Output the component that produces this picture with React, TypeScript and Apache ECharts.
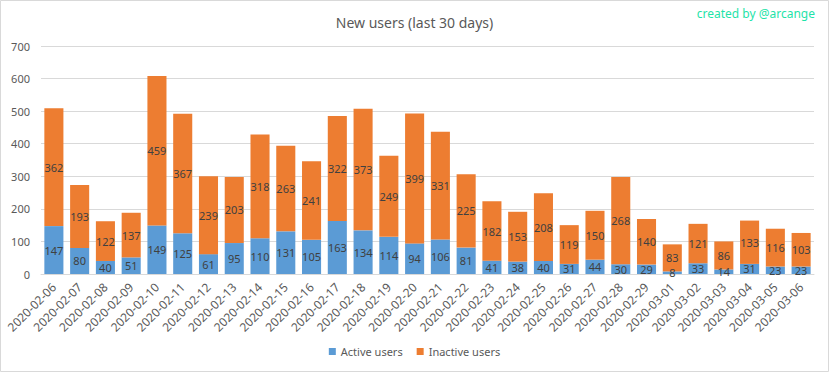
import React, { useEffect, useRef } from "react";
import * as echarts from "echarts";

const categories = [
  "2020-02-06","2020-02-07","2020-02-08","2020-02-09","2020-02-10","2020-02-11","2020-02-12","2020-02-13","2020-02-14","2020-02-15",
  "2020-02-16","2020-02-17","2020-02-18","2020-02-19","2020-02-20","2020-02-21","2020-02-22","2020-02-23","2020-02-24","2020-02-25",
  "2020-02-26","2020-02-27","2020-02-28","2020-02-29","2020-03-01","2020-03-02","2020-03-03","2020-03-04","2020-03-05","2020-03-06",
];
const activeUsers = [147,80,40,51,149,125,61,95,110,131,105,163,134,114,94,106,81,41,38,40,31,44,30,29,8,33,14,31,23,23];
const inactiveUsers = [362,193,122,137,459,367,239,203,318,263,241,322,373,249,399,331,225,182,153,208,119,150,268,140,83,121,86,133,116,103];

const FONT = "'Noto Sans', sans-serif";
const TXT = "#595959";

export default function App() {
  const ref = useRef<HTMLDivElement>(null);
  useEffect(() => {
    document.body.style.margin = "0";
    const chart = echarts.init(ref.current!, undefined, { renderer: "svg" });
    const label = {
      show: true,
      position: "inside" as const,
      color: "#404040",
      fontSize: 11,
      fontFamily: FONT,
    };
    chart.setOption({
      animation: false,
      backgroundColor: "#ffffff",
      textStyle: { fontFamily: FONT },
      title: {
        text: "New users (last 30 days)",
        left: "center",
        top: 10,
        textStyle: { color: TXT, fontSize: 14, fontWeight: "normal", fontFamily: FONT },
      },
      graphic: [
        {
          type: "rect",
          shape: { x: 0.5, y: 0.5, width: 828, height: 371 },
          style: { fill: "none", stroke: "#d9d9d9", lineWidth: 1 },
          silent: true,
        },
        {
          type: "text",
          right: 14,
          top: 7,
          style: { text: "created by @arcange", fill: "#1ee3a8", fontSize: 12, fontFamily: FONT },
        },
      ],
      legend: {
        bottom: 10,
        left: "center",
        itemWidth: 7,
        itemHeight: 7,
        itemGap: 14,
        icon: "rect",
        textStyle: { color: TXT, fontSize: 11, fontFamily: FONT },
        data: ["Active users", "Inactive users"],
      },
      grid: { left: 41, right: 15, top: 46, bottom: 98, containLabel: false },
      xAxis: {
        type: "category",
        data: categories,
        axisLine: { lineStyle: { color: "#d9d9d9" } },
        axisTick: { show: false },
        axisLabel: { rotate: 45, color: TXT, fontSize: 12, fontFamily: FONT, margin: 11, interval: 0 },
      },
      yAxis: {
        type: "value",
        min: 0,
        max: 700,
        interval: 100,
        axisLine: { show: false },
        axisTick: { show: false },
        splitLine: { lineStyle: { color: "#d9d9d9" } },
        axisLabel: { color: TXT, fontSize: 11, fontFamily: FONT, margin: 11 },
      },
      series: [
        {
          name: "Active users",
          type: "bar",
          stack: "users",
          data: activeUsers,
          barCategoryGap: "26%",
          itemStyle: { color: "#5b9bd5" },
          label,
        },
        {
          name: "Inactive users",
          type: "bar",
          stack: "users",
          data: inactiveUsers,
          barCategoryGap: "26%",
          itemStyle: { color: "#ed7d31" },
          label,
        },
      ],
    });
    return () => chart.dispose();
  }, []);
  return <div ref={ref} style={{ width: 829, height: 372 }} />;
}
